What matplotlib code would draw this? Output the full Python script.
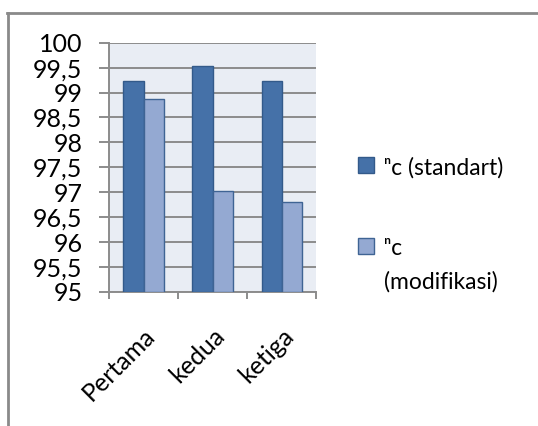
import matplotlib
matplotlib.use("Agg")
import matplotlib.pyplot as plt
import numpy as np
from matplotlib.lines import Line2D

categories = ["Pertama", "kedua", "ketiga"]
standart = [99.23, 99.53, 99.23]
modifikasi = [98.87, 97.02, 96.80]
series_labels = ["\u207fc (standart)", "\u207fc\n(modifikasi)"]
y_ticks = [95, 95.5, 96, 96.5, 97, 97.5, 98, 98.5, 99, 99.5, 100]
y_tick_labels = ["95", "95,5", "96", "96,5", "97", "97,5", "98", "98,5", "99", "99,5", "100"]

plt.rcParams["font.family"] = ["Lato", "DejaVu Sans"]

fig = plt.figure(figsize=(5.38, 4.26), dpi=100)
ax = fig.add_axes([0.2026, 0.3146, 0.3848, 0.5852])
ax.set_facecolor("#E9EDF4")

x = np.arange(len(categories))
w = 0.29
ax.bar(x - w / 2, [v - 95 for v in standart], w, bottom=95, color="#4571A8",
       edgecolor="#335A8A", linewidth=1.0, label=series_labels[0], zorder=3)
ax.bar(x + w / 2, [v - 95 for v in modifikasi], w, bottom=95, color="#94A9D2",
       edgecolor="#3F6494", linewidth=1.0, label=series_labels[1], zorder=3)

ax.set_xlim(-0.5, len(categories) - 0.5)
ax.set_ylim(95, 100)
ax.set_yticks(y_ticks)
ax.set_yticklabels(y_tick_labels)
ax.yaxis.grid(True, color="#8C8C8C", linewidth=1.4, zorder=1)
ax.set_axisbelow(True)
ax.tick_params(axis="y", length=7, width=1.4, color="#8C8C8C", pad=12, labelsize=18)

ax.set_xticks(x)
ax.set_xticklabels(categories, rotation=45, ha="right", rotation_mode="anchor")
ax.tick_params(axis="x", length=0, pad=23, labelsize=18)
ax.set_xticks(np.arange(len(categories) + 1) - 0.5, minor=True)
ax.tick_params(axis="x", which="minor", length=5, width=1.4, color="#8C8C8C")

for s in ["top", "right"]:
    ax.spines[s].set_visible(False)
for s in ["left", "bottom"]:
    ax.spines[s].set_color("#8C8C8C")
    ax.spines[s].set_linewidth(1.4)

leg = fig.legend(loc="upper left", bbox_to_anchor=(0.627, 0.68), frameon=False,
                 fontsize=16.5, handlelength=0.72, handleheight=0.72,
                 handletextpad=0.4, labelspacing=2.6)
for t in leg.get_texts():
    t.set_linespacing(1.7)
# put each legend square level with the first line of its label
for col in leg._legend_handle_box.get_children():
    for row in col.get_children():
        row.align = "top"

# outer chart frame (top and left edges)
fig.add_artist(Line2D([0.013, 1.0], [0.969, 0.969], color="#8A8A8A", linewidth=2))
fig.add_artist(Line2D([0.015, 0.015], [0.0, 0.969], color="#8A8A8A", linewidth=2))

fig.savefig("out.png", dpi=100)
